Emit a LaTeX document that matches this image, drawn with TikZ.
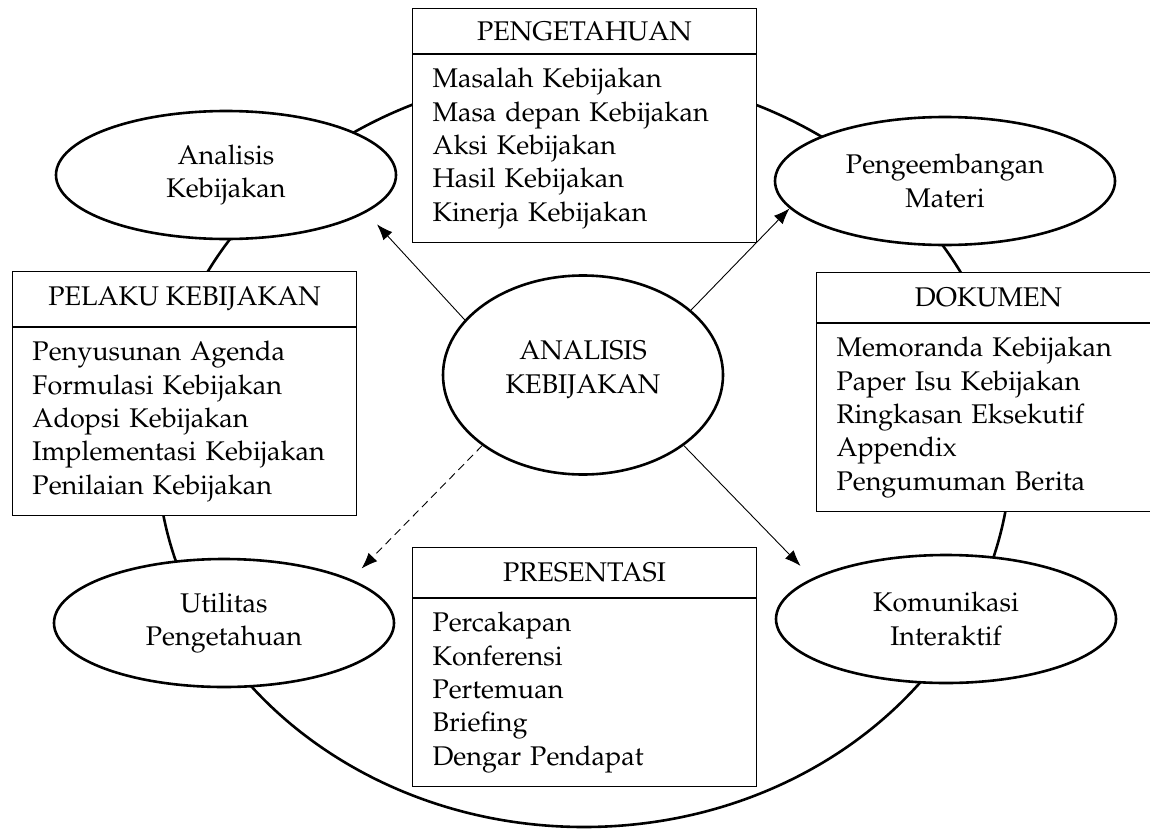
\documentclass[tikz,border=0pt]{standalone}
\usepackage[T1]{fontenc}
\usepackage{mathpazo}
\usepackage{tikz}
\usetikzlibrary{shapes.geometric}
\usetikzlibrary{positioning,arrows.meta}

\begin{document}
\begin{tikzpicture}[>={Latex[length=8pt,width=6pt]}, x=0.5pt, y=-0.5pt, font=\fontsize{13.5}{16.7}\selectfont,
 oval/.style={ellipse,draw,line width=1.3pt,fill=white,align=center,minimum width=170pt,minimum height=64pt},
 head/.style={draw,line width=0.5pt,fill=white,minimum width=172pt,minimum height=25pt,inner sep=0pt},
 list/.style={draw,line width=0.5pt,fill=white,text width=152pt,inner xsep=10pt,minimum height=94pt,align=left},
 link/.style={line width=0.45pt}, ]

 \useasboundingbox (0,0) rectangle (1150,829);
 \clip (0,0) rectangle (1150,829);

 \draw[line width=1.3pt] (584,450) ellipse [x radius=213.5pt, y radius=188.5pt];

 \node[oval] (AK) at (226,175) {Analisis\\Kebijakan};
 \node[oval] (PM) at (945,181) {Pengeembangan\\Materi};
 \node[oval] (UP) at (224,623) {Utilitas\\Pengetahuan};
 \node[oval] (KI) at (946,619) {Komunikasi\\Interaktif};
 \node[oval,minimum width=140pt,minimum height=99.5pt,text depth=8pt] (AN) at (583,375) {ANALISIS\\KEBIJAKAN};

 \node[head,minimum height=22.5pt,anchor=north west] (PTh) at (412,8) {PENGETAHUAN};
 \node[list,below=0pt of PTh] (PT) {Masalah Kebijakan\\Masa depan Kebijakan\\Aksi Kebijakan\\Hasil Kebijakan\\Kinerja Kebijakan};

 \node[head,minimum height=27.5pt,anchor=north west] (PKh) at (12,271) {PELAKU KEBIJAKAN};
 \node[list,below=0pt of PKh] (PK) {Penyusunan Agenda\\Formulasi Kebijakan\\Adopsi Kebijakan\\Implementasi Kebijakan\\Penilaian Kebijakan};

 \node[head,anchor=north west] (DKh) at (816,272) {DOKUMEN};
 \node[list,below=0pt of DKh] (DK) {Memoranda Kebijakan\\Paper Isu Kebijakan\\Ringkasan Eksekutif\\Appendix\\Pengumuman Berita};

 \node[head,anchor=north west] (PRh) at (412,547) {PRESENTASI};
 \node[list,below=0pt of PRh] (PR) {Percakapan\\Konferensi\\Pertemuan\\Briefing\\Dengar Pendapat};

 \draw[link,->,shorten >=8pt] (AN.155) -- (AK.-15);
 \draw[link,->] (AN.31) -- (PM.190);
 \draw[link,->,dash pattern=on 4pt off 2.5pt,shorten >=7.5pt] (AN.215) -- (UP.19);
 \draw[link,->,shorten >=8.5pt] (AN.-35) -- (KI.163);

\end{tikzpicture}
\end{document}
